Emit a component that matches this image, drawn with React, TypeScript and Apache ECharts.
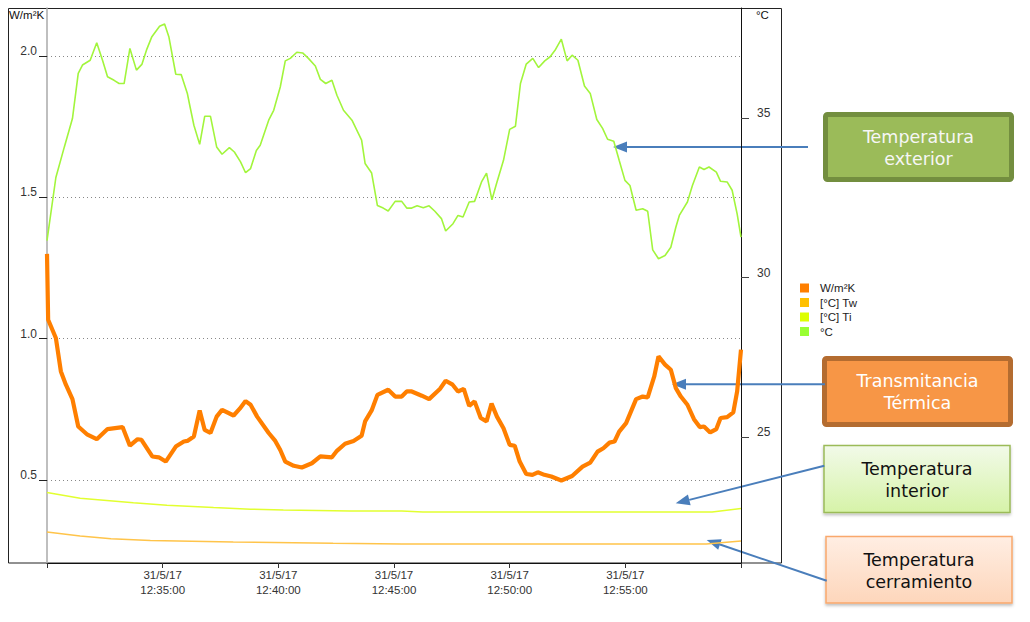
import React, { useEffect, useRef } from "react";
import * as echarts from "echarts";

// ---- data (seconds after 31/5/17 12:30:00) ----
const DATE_LABEL = "31/5/17";
const START_H = 12;
const START_M = 30;
const X_MIN = 0;
const X_MAX = 1800;
const X_STEP = 300;

const leftTicks = [0.5, 1.0, 1.5, 2.0];
const rightTicks = [25, 30, 35];

const uSec = [0, 3, 23, 36, 49, 66, 81, 105, 129, 157, 196, 215, 235, 245, 273, 290, 308, 334, 355, 364, 381, 396, 409, 424, 440, 454, 484, 500, 515, 528, 545, 575, 592, 605, 618, 640, 661, 687, 709, 739, 752, 773, 795, 816, 825, 842, 857, 885, 903, 920, 933, 946, 972, 991, 1019, 1034, 1052, 1066, 1081, 1095, 1109, 1125, 1140, 1153, 1167, 1184, 1200, 1213, 1226, 1243, 1259, 1273, 1290, 1308, 1334, 1362, 1389, 1409, 1428, 1443, 1459, 1472, 1484, 1502, 1528, 1545, 1558, 1575, 1586, 1603, 1618, 1631, 1644, 1661, 1678, 1693, 1704, 1720, 1736, 1747, 1764, 1780, 1790, 1800];
const uVal = [1.30, 1.067, 1.002, 0.884, 0.837, 0.786, 0.689, 0.660, 0.644, 0.680, 0.687, 0.621, 0.644, 0.642, 0.583, 0.580, 0.565, 0.618, 0.636, 0.638, 0.654, 0.746, 0.677, 0.666, 0.724, 0.748, 0.728, 0.752, 0.779, 0.766, 0.724, 0.666, 0.638, 0.606, 0.565, 0.550, 0.544, 0.559, 0.583, 0.580, 0.603, 0.628, 0.638, 0.656, 0.707, 0.746, 0.801, 0.819, 0.795, 0.795, 0.813, 0.813, 0.798, 0.786, 0.822, 0.851, 0.837, 0.813, 0.822, 0.762, 0.778, 0.719, 0.707, 0.770, 0.724, 0.683, 0.624, 0.621, 0.565, 0.521, 0.518, 0.527, 0.518, 0.512, 0.498, 0.514, 0.547, 0.561, 0.600, 0.612, 0.632, 0.636, 0.671, 0.701, 0.786, 0.795, 0.792, 0.866, 0.937, 0.908, 0.890, 0.825, 0.795, 0.766, 0.715, 0.687, 0.689, 0.668, 0.680, 0.719, 0.722, 0.739, 0.813, 0.961];

const extSec = [0, 23, 45, 66, 81, 92, 112, 129, 144, 157, 174, 187, 200, 215, 232, 246, 259, 272, 292, 305, 316, 334, 348, 364, 371, 381, 396, 409, 424, 440, 454, 473, 486, 502, 515, 528, 543, 553, 575, 588, 605, 618, 631, 648, 663, 678, 696, 709, 723, 739, 752, 769, 791, 816, 825, 842, 857, 872, 885, 903, 920, 933, 946, 960, 976, 991, 1006, 1023, 1034, 1053, 1066, 1079, 1095, 1109, 1127, 1140, 1154, 1166, 1184, 1200, 1215, 1228, 1243, 1260, 1275, 1291, 1305, 1319, 1334, 1349, 1362, 1377, 1394, 1409, 1426, 1441, 1454, 1470, 1484, 1499, 1512, 1528, 1545, 1558, 1571, 1586, 1603, 1618, 1631, 1640, 1661, 1674, 1692, 1704, 1717, 1736, 1747, 1764, 1777, 1790, 1800];
const extVal = [31.16, 33.14, 34.10, 34.99, 36.41, 36.67, 36.82, 37.37, 36.82, 36.30, 36.19, 36.09, 36.09, 37.19, 36.51, 36.69, 37.17, 37.56, 37.89, 37.96, 37.56, 36.38, 36.37, 35.78, 35.36, 34.78, 34.18, 35.06, 35.06, 34.10, 33.87, 34.08, 33.94, 33.63, 33.29, 33.42, 33.99, 34.15, 34.94, 35.25, 35.98, 36.80, 36.88, 37.07, 37.05, 36.88, 36.64, 36.22, 36.09, 36.19, 35.72, 35.25, 34.94, 34.31, 33.58, 33.28, 32.26, 32.18, 32.09, 32.39, 32.39, 32.18, 32.18, 32.25, 32.19, 32.25, 32.08, 31.85, 31.46, 31.69, 31.95, 31.90, 32.37, 32.39, 33.00, 33.28, 32.44, 32.95, 33.68, 34.65, 34.75, 36.09, 36.70, 36.88, 36.59, 36.80, 36.93, 37.16, 37.48, 36.80, 36.98, 36.82, 36.01, 35.78, 34.96, 34.68, 34.34, 34.28, 33.68, 33.05, 32.89, 32.11, 32.16, 32.08, 30.87, 30.59, 30.69, 30.95, 31.58, 31.95, 32.37, 32.89, 33.47, 33.39, 33.47, 33.31, 33.02, 33.00, 32.74, 32.00, 31.27];

const tiSec = [0, 86, 224, 311, 432, 528, 613, 786, 920, 975, 1725, 1800];
const tiVal = [23.25, 23.07, 22.93, 22.85, 22.78, 22.73, 22.70, 22.67, 22.67, 22.64, 22.64, 22.75];

const twSec = [0, 86, 166, 268, 483, 742, 920, 1710, 1800];
const twVal = [22.01, 21.89, 21.80, 21.75, 21.70, 21.66, 21.64, 21.64, 21.73];

const seriesNames = ["W/m²K", "[°C] Tw", "[°C] Ti", "°C"];
const seriesColors = ["#FF7F00", "#FFC000", "#DDFF00", "#99FF33"];

const notes = [
  "Temperatura\nexterior",
  "Transmitancia\nTérmica",
  "Temperatura\ninterior",
  "Temperatura\ncerramiento",
];

const pair = (s: number[], v: number[]) => s.map((x, i) => [x, v[i]]);

const pad = (n: number) => (n < 10 ? "0" + n : "" + n);
const timeLabel = (sec: number) => {
  const tot = START_H * 3600 + START_M * 60 + sec;
  const h = Math.floor(tot / 3600);
  const m = Math.floor((tot % 3600) / 60);
  const s = tot % 60;
  return `${pad(h)}:${pad(m)}:${pad(s)}`;
};

const ARROW = "#4A7EBB";
function arrow(x1: number, y1: number, x2: number, y2: number) {
  const dx = x2 - x1;
  const dy = y2 - y1;
  const L = Math.hypot(dx, dy);
  const ux = dx / L;
  const uy = dy / L;
  const hl = 14;
  const hw = 5.5;
  const bx = x2 - ux * hl;
  const by = y2 - uy * hl;
  return [
    { type: "line", silent: true, shape: { x1, y1, x2: bx, y2: by }, style: { stroke: ARROW, lineWidth: 2 } },
    {
      type: "polygon",
      silent: true,
      shape: { points: [[x2, y2], [bx - uy * hw, by + ux * hw], [bx + uy * hw, by - ux * hw]] },
      style: { fill: ARROW },
    },
  ];
}

function noteText(text: string, cx: number, cy: number, fill: string) {
  return {
    type: "text",
    silent: true,
    z: 10,
    style: {
      text,
      x: cx,
      y: cy,
      align: "center",
      verticalAlign: "middle",
      fontFamily: "DejaVu Sans",
      fontSize: 17.5,
      lineHeight: 22,
      fill,
    },
  };
}

export default function App() {
  const ref = useRef<HTMLDivElement>(null);
  useEffect(() => {
    if (!ref.current) return;
    const chart = echarts.init(ref.current, undefined, { renderer: "svg" });
    const font = "Liberation Sans";
    const option: any = {
      animation: false,
      backgroundColor: "#ffffff",
      textStyle: { fontFamily: font },
      grid: { left: 47, top: 8, width: 694, height: 555, containLabel: false },
      legend: {
        orient: "vertical",
        left: 795,
        top: 277,
        icon: "rect",
        itemWidth: 9,
        itemHeight: 9,
        itemGap: 2.5,
        data: seriesNames,
        textStyle: { fontSize: 11.5, lineHeight: 12, color: "#222", padding: [0, 0, 0, 6] },
        selectedMode: false,
      },
      xAxis: {
        type: "value",
        min: X_MIN,
        max: X_MAX,
        interval: X_STEP,
        axisLine: { show: true, lineStyle: { color: "#111", width: 1 } },
        axisTick: { show: true, length: 5, lineStyle: { color: "#333" } },
        splitLine: { show: false },
        axisLabel: {
          margin: 4,
          fontSize: 11.5,
          lineHeight: 15,
          color: "#333",
          showMinLabel: true,
          showMaxLabel: true,
          formatter: (v: number) => (v === X_MIN || v === X_MAX ? "" : `${DATE_LABEL}\n${timeLabel(v)}`),
        },
      },
      yAxis: [
        {
          type: "value",
          position: "left",
          min: 0.206,
          max: 2.17,
          axisLine: { show: true, lineStyle: { color: "#aaa", width: 1.5 } },
          axisTick: { show: true, length: 8, lineStyle: { color: "#222" }, customValues: leftTicks },
          axisLabel: {
            customValues: leftTicks,
            margin: 10,
            fontSize: 12,
            color: "#333",
            verticalAlign: "bottom",
            lineHeight: 10,
            formatter: (v: number) => v.toFixed(1),
          },
          splitLine: { show: true, lineStyle: { color: "#888", type: [1, 3], width: 1 } },
        },
        {
          type: "value",
          position: "right",
          min: 21.04,
          max: 38.46,
          axisLine: { show: true, lineStyle: { color: "#111", width: 1 } },
          axisTick: { show: true, length: 8, lineStyle: { color: "#444" }, customValues: rightTicks },
          axisLabel: {
            customValues: rightTicks,
            margin: 16,
            fontSize: 12,
            color: "#333",
            verticalAlign: "bottom",
            lineHeight: 10,
          },
          splitLine: { show: false },
        },
      ],
      series: [
        {
          name: seriesNames[0],
          type: "line",
          yAxisIndex: 0,
          data: pair(uSec, uVal),
          showSymbol: false,
          symbol: "none",
          color: seriesColors[0],
          lineStyle: { width: 4.2, color: seriesColors[0] },
          z: 5,
        },
        {
          name: seriesNames[1],
          type: "line",
          yAxisIndex: 1,
          data: pair(twSec, twVal),
          showSymbol: false,
          symbol: "none",
          color: seriesColors[1],
          lineStyle: { width: 1.5, color: "#FFC44A" },
        },
        {
          name: seriesNames[2],
          type: "line",
          yAxisIndex: 1,
          data: pair(tiSec, tiVal),
          showSymbol: false,
          symbol: "none",
          color: seriesColors[2],
          lineStyle: { width: 1.5, color: "#E2FF30" },
        },
        {
          name: seriesNames[3],
          type: "line",
          yAxisIndex: 1,
          data: pair(extSec, extVal),
          showSymbol: false,
          symbol: "none",
          color: seriesColors[3],
          lineStyle: { width: 1.6, color: "#A2F53C" },
        },
      ],
      graphic: [
        {
          type: "rect",
          silent: true,
          shape: { x: 8.5, y: 8.5, width: 773, height: 554.5 },
          style: { fill: "none", stroke: "#222", lineWidth: 1 },
        },
        {
          type: "text",
          silent: true,
          style: { text: "W/m²K", x: 9, y: 15, verticalAlign: "middle", fontFamily: font, fontSize: 11.5, fill: "#111" },
        },
        {
          type: "text",
          silent: true,
          style: { text: "°C", x: 756, y: 15, verticalAlign: "middle", fontFamily: font, fontSize: 11.5, fill: "#111" },
        },
        // box 1
        {
          type: "rect",
          silent: true,
          shape: { x: 825.5, y: 114.5, width: 186, height: 65, r: 2 },
          style: { fill: "#9BBB59", stroke: "#738E3F", lineWidth: 5 },
        },
        noteText(notes[0], 918.5, 147.5, "#F6F6F6"),
        // box 2
        {
          type: "rect",
          silent: true,
          shape: { x: 824.5, y: 358.5, width: 186, height: 66, r: 2 },
          style: { fill: "#F79646", stroke: "#B46C30", lineWidth: 5 },
        },
        noteText(notes[1], 917.5, 392, "#FFFFFF"),
        // box 3
        {
          type: "rect",
          silent: true,
          shape: { x: 824, y: 445.5, width: 186, height: 67 },
          style: {
            fill: new echarts.graphic.LinearGradient(0, 0, 0, 1, [
              { offset: 0, color: "#F2FAE9" },
              { offset: 1, color: "#D6F3A8" },
            ]),
            stroke: "#9BBB59",
            lineWidth: 1.5,
            shadowBlur: 3,
            shadowOffsetY: 2,
            shadowColor: "rgba(0,0,0,0.25)",
          },
        },
        noteText(notes[2], 917, 479.5, "#111111"),
        // box 4
        {
          type: "rect",
          silent: true,
          shape: { x: 826, y: 536.5, width: 186, height: 66.5 },
          style: {
            fill: new echarts.graphic.LinearGradient(0, 0, 0, 1, [
              { offset: 0, color: "#FFEEE3" },
              { offset: 1, color: "#FDD6BB" },
            ]),
            stroke: "#F9A86C",
            lineWidth: 1.5,
            shadowBlur: 3,
            shadowOffsetY: 2,
            shadowColor: "rgba(0,0,0,0.25)",
          },
        },
        noteText(notes[3], 919, 570.5, "#111111"),
        ...arrow(808, 147, 613, 147),
        ...arrow(825, 384.3, 672, 384.3),
        ...arrow(824.3, 465.7, 675.7, 503.3),
        ...arrow(826.7, 580.7, 706.7, 540),
      ],
    };
    chart.setOption(option);
    return () => chart.dispose();
  }, []);
  return <div ref={ref} style={{ position: "absolute", left: 0, top: 0, width: 1030, height: 622 }} />;
}
